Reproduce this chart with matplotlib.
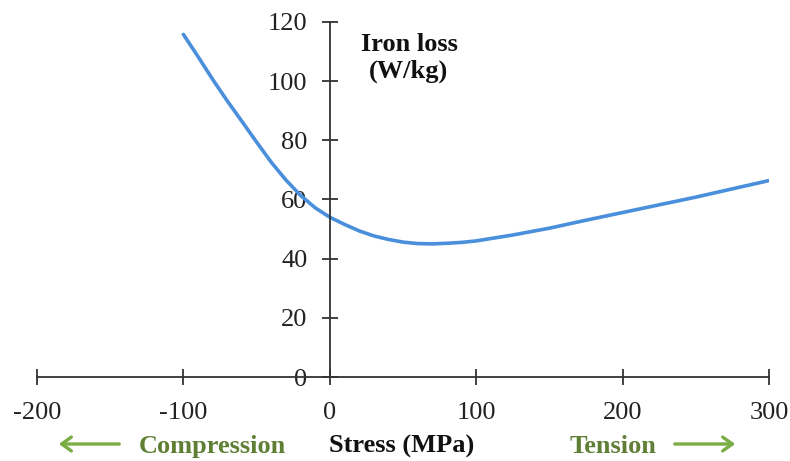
import matplotlib.pyplot as plt
from matplotlib.patches import FancyArrowPatch

# values
stress = [-100, -90, -80, -70, -60, -50, -40, -30, -20, -10, 0, 10, 20, 30, 40, 50, 60, 70, 80, 90, 100,
          125, 150, 175, 200, 225, 250, 275, 300]
iron_loss = [115.8, 108.3, 100.6, 93.3, 86.4, 79.4, 72.6, 66.6, 61.4, 57.2, 54.0, 51.6, 49.4, 47.7, 46.5,
             45.6, 45.1, 45.0, 45.2, 45.5, 46.0, 48.0, 50.3, 53.0, 55.6, 58.2, 60.8, 63.6, 66.4]
x_ticks = [-200, -100, 0, 100, 200, 300]
y_ticks = [0, 20, 40, 60, 80, 100, 120]

plt.rcParams['font.family'] = ['Liberation Serif', 'DejaVu Serif']

W, H = 790, 461
fig = plt.figure(figsize=(W / 100, H / 100), dpi=100)
ax = fig.add_axes([37 / W, 84 / H, (769 - 37) / W, (377 - 22) / H])

ax.plot(stress, iron_loss, color='#4a8fdb', lw=2.6, solid_capstyle='round', solid_joinstyle='round')

ax.set_xlim(-200, 300)
ax.set_ylim(0, 120)
ax.set_xticks(x_ticks)
ax.set_yticks(y_ticks)
ax.set_xticklabels([str(v) for v in x_ticks])
ax.set_yticklabels([str(v) for v in y_ticks])

axis_col = '#333333'
ax.spines['top'].set_visible(False)
ax.spines['right'].set_visible(False)
ax.spines['left'].set_position(('data', 0))
ax.spines['bottom'].set_position(('data', 0))
for s in ['left', 'bottom']:
    ax.spines[s].set_color(axis_col)
    ax.spines[s].set_linewidth(1.3)
ax.tick_params(axis='both', direction='inout', length=12, width=1.3, color=axis_col,
               labelsize=19, labelcolor='#222222')
ax.tick_params(axis='x', pad=12)
ax.tick_params(axis='y', pad=10)

# y axis label inside the plot
fig.text(409 / W, 1 - 58 / H, 'Iron loss\n(W/kg)', ha='center', va='center',
         fontsize=19, fontweight='bold', color='#111111', linespacing=1.25)

# bottom labels
yb = 1 - 446 / H
fig.text(402 / W, yb, 'Stress (MPa)', ha='center', va='center', fontsize=19,
         fontweight='bold', color='#111111')
green_txt = '#5f7f35'
green_arr = '#7aad45'
fig.text(212 / W, yb, 'Compression', ha='center', va='center', fontsize=19,
         fontweight='bold', color=green_txt)
fig.text(613 / W, yb, 'Tension', ha='center', va='center', fontsize=19,
         fontweight='bold', color=green_txt)
ya = 1 - 444 / H
fig.patches.append(FancyArrowPatch(
    (122 / W, ya), (56 / W, ya), transform=fig.transFigure, arrowstyle='->,head_length=7,head_width=5',
    color=green_arr, lw=2.4, mutation_scale=1))
fig.patches.append(FancyArrowPatch(
    (672 / W, ya), (738 / W, ya), transform=fig.transFigure, arrowstyle='->,head_length=7,head_width=5',
    color=green_arr, lw=2.4, mutation_scale=1))

fig.savefig('out.png', dpi=100)
